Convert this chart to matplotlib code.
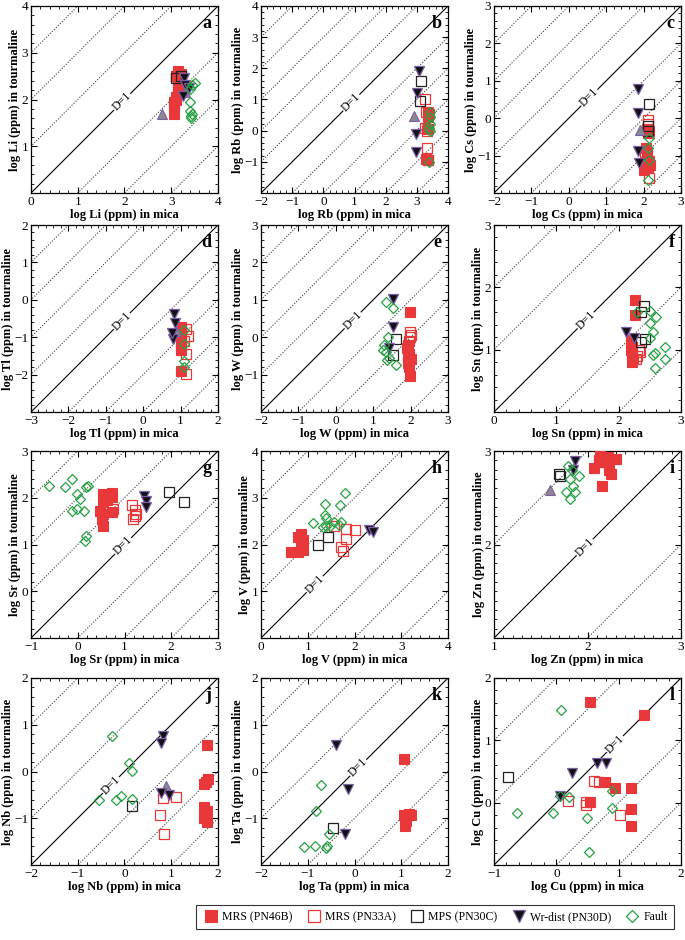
import numpy as np
import matplotlib
matplotlib.use('Agg')
from matplotlib import pyplot as plt
from matplotlib.ticker import MultipleLocator

plt.rcParams['font.family'] = ['Liberation Serif', 'DejaVu Serif']

# ---- data: (log mica, log tourmaline) ----
# a  Li
li_46b = [(3.15, 2.6), (3.2, 2.55), (3.1, 2.5), (3.15, 2.45), (3.2, 2.4), (3.15, 2.3), (3.2, 2.25),
          (3.15, 2.2), (3.1, 2.05), (3.1, 2.0), (3.05, 1.95), (3.05, 1.9), (3.05, 1.7)]
li_33a = [(3.1, 2.5), (3.15, 2.45), (3.2, 2.3)]
li_30c = [(3.1, 2.45), (3.2, 2.5)]
li_30d = [(3.27, 2.45), (3.3, 2.3), (3.25, 2.08), (3.38, 2.25)]
li_wr = [(2.8, 1.7), (3.3, 2.15)]
li_fault = [(3.5, 2.35), (3.45, 2.3), (3.4, 2.22), (3.4, 1.95), (3.4, 1.75), (3.45, 1.7), (3.43, 1.65), (3.42, 1.6)]
# b  Rb
rb_46b = [(3.36, 0.6), (3.35, 0.45), (3.4, 0.55), (3.35, 0.05), (3.35, -0.95), (3.3, -0.9)]
rb_33a = [(3.25, 1.02), (3.3, 0.6), (3.25, 0.1), (3.32, 0.0), (3.32, -0.57), (3.35, -0.95)]
rb_30c = [(3.14, 1.59), (3.09, 0.95)]
rb_30d = [(3.06, 1.9), (3.02, 1.21), (2.98, -0.12), (2.98, -0.7)]
rb_wr = [(2.9, 0.47)]
rb_fault = [(3.41, 0.6), (3.41, 0.45), (3.42, 0.2), (3.4, 0.1), (3.41, -0.01), (3.4, -1.02)]
# c  Cs
cs_46b = [(2.11, -0.4), (2.15, -0.35), (2.06, -0.8), (2.1, -0.9), (2.1, -1.02), (2.15, -1.15),
          (2.16, -1.24), (2.02, -1.38), (2.08, -1.3)]
cs_33a = [(2.11, -0.04), (2.12, -0.15), (2.1, -0.3), (2.05, -0.9), (2.12, -1.3), (2.14, -1.6)]
cs_30c = [(2.14, 0.38), (2.11, -0.22), (2.11, -0.35)]
cs_30d = [(1.85, 0.78), (1.85, 0.14), (1.85, -0.89), (1.87, -1.2)]
cs_wr = [(1.9, -0.31)]
cs_fault = [(2.14, -0.53), (2.11, -0.8), (2.14, -1.11), (2.11, -1.64)]
# d  Tl
tl_46b = [(1.02, -0.73), (1.0, -0.85), (1.02, -0.96), (1.0, -1.1), (1.0, -1.27), (1.02, -1.35), (1.0, -1.9)]
tl_33a = [(1.15, -0.78), (1.2, -0.96), (1.1, -1.1), (1.15, -1.45), (1.15, -1.99)]
tl_30c = []
tl_30d = [(0.82, -0.37), (0.86, -0.62), (0.8, -1.05), (0.78, -0.9)]
tl_wr = [(0.88, -0.83)]
tl_fault = [(1.09, -0.82), (1.09, -1.18), (1.09, -1.63), (1.1, -1.81)]
# e  W
w_46b = [(1.99, 0.68), (1.93, -0.21), (1.9, -0.3), (1.95, -0.44), (1.92, -0.55), (2.0, -0.58),
         (1.92, -0.7), (1.95, -0.79), (1.99, -1.03)]
w_33a = [(1.99, 0.14), (2.02, 0.05), (1.98, 0.0), (1.95, -0.1)]
w_30c = [(1.6, -0.04), (1.53, -0.48)]
w_30d = [(1.53, 1.01), (1.53, 0.28), (1.42, -0.3)]
w_wr = []
w_fault = [(1.35, 0.95), (1.53, 0.77), (1.39, 0.0), (1.3, -0.2), (1.26, -0.35), (1.35, -0.4),
           (1.42, -0.55), (1.38, -0.6), (1.62, -0.73)]
# f  Sn
sn_46b = [(2.26, 1.79), (2.26, 1.56), (2.2, 1.15), (2.22, 1.05), (2.2, 0.99), (2.22, 0.91), (2.23, 0.85), (2.22, 0.8)]
sn_33a = [(2.34, 0.96), (2.3, 0.9), (2.28, 0.85), (2.32, 1.0)]
sn_30c = [(2.41, 1.70), (2.36, 1.61), (2.43, 1.17), (2.36, 1.13)]
sn_30d = [(2.12, 1.29), (2.25, 1.18)]
sn_wr = []
sn_fault = [(2.3, 1.61), (2.51, 1.62), (2.6, 1.53), (2.51, 1.42), (2.55, 1.29), (2.5, 1.19),
            (2.74, 1.04), (2.58, 0.94), (2.55, 0.91), (2.75, 0.85), (2.58, 0.71)]
# g  Sr
sr_46b = [(0.55, 2.08), (0.73, 2.11), (0.73, 2.02), (0.55, 1.9), (0.48, 1.72), (0.55, 1.65),
          (0.55, 1.4), (0.73, 1.69), (0.52, 1.55), (0.62, 1.95)]
sr_33a = [(0.76, 1.77), (1.15, 1.85), (1.22, 1.74), (1.25, 1.65), (1.22, 1.6), (1.18, 1.55)]
sr_30c = [(1.96, 2.13), (2.28, 1.9)]
sr_30d = [(1.42, 2.04), (1.47, 1.94), (1.47, 1.8)]
sr_wr = []
sr_fault = [(-0.62, 2.26), (-0.27, 2.22), (-0.13, 2.41), (-0.01, 2.09), (0.05, 1.97), (0.18, 2.22),
            (0.21, 2.26), (-0.13, 1.72), (-0.01, 1.76), (0.14, 1.72), (0.18, 1.19), (0.16, 1.07)]
# h  V
v_46b = [(0.86, 2.23), (0.8, 2.16), (0.9, 2.1), (0.64, 1.84), (0.79, 1.85), (0.9, 1.88), (0.86, 2.0)]
v_33a = [(1.57, 2.40), (1.81, 2.33), (2.0, 2.3), (1.81, 2.12), (1.71, 1.94), (1.75, 1.87)]
v_30c = [(1.21, 1.99), (1.43, 2.16)]
v_30d = [(2.32, 2.3), (2.39, 2.26)]
v_wr = []
v_fault = [(1.79, 3.11), (1.36, 2.87), (1.7, 2.84), (1.36, 2.63), (1.38, 2.56), (1.12, 2.45),
           (1.39, 2.4), (1.48, 2.4), (1.57, 2.48), (1.66, 2.42), (1.71, 2.48), (1.33, 2.38)]
# i  Zn
zn_46b = [(2.07, 2.82), (2.13, 2.95), (2.22, 2.94), (2.23, 2.8), (2.25, 2.75), (2.31, 2.91),
          (2.16, 2.63), (2.2, 2.88), (2.12, 2.88)]
zn_33a = [(2.12, 2.9), (2.18, 2.88)]
zn_30c = [(1.70, 2.75), (1.71, 2.73)]
zn_30d = [(1.87, 2.89), (1.84, 2.8)]
zn_wr = [(1.6, 2.58)]
zn_fault = [(1.79, 2.84), (1.83, 2.8), (1.81, 2.7), (1.91, 2.73), (1.85, 2.63), (1.87, 2.56),
            (1.77, 2.56), (1.81, 2.49)]
# j  Nb
nb_46b = [(1.76, 0.56), (1.79, -0.16), (1.74, -0.23), (1.69, -0.26), (1.71, -0.77), (1.76, -0.84),
          (1.71, -1.0), (1.76, -1.09)]
nb_33a = [(0.82, -0.57), (1.11, -0.55), (0.76, -0.93), (0.84, -1.33)]
nb_30c = [(0.16, -0.73)]
nb_30d = [(0.82, 0.76), (0.79, 0.6), (0.79, -0.46), (0.95, -0.51)]
nb_wr = [(0.89, -0.31)]
nb_fault = [(-0.26, 0.76), (0.09, 0.18), (0.16, 0.02), (-0.54, -0.6), (-0.18, -0.6), (-0.07, -0.52), (0.16, -0.59)]
# k  Ta
ta_46b = [(1.05, 0.26), (1.05, -0.94), (1.16, -0.9), (1.2, -0.92), (1.07, -1.16), (1.1, -1.05)]
ta_33a = []
ta_30c = [(-0.45, -1.2)]
ta_30d = [(-0.4, 0.56), (-0.13, -0.38), (-0.21, -1.33)]
ta_wr = []
ta_fault = [(-0.71, -0.28), (-0.83, -0.85), (-0.54, -1.33), (-1.09, -1.62), (-0.84, -1.6),
            (-0.61, -1.63), (-0.58, -1.6)]
# l  Cu
cu_46b = [(0.54, 1.62), (1.4, 1.41), (0.78, 0.33), (0.94, 0.24), (1.19, 0.24), (1.19, -0.1),
          (1.19, -0.38), (0.54, 0.01)]
cu_33a = [(0.6, 0.35), (0.69, 0.33), (0.19, 0.03), (0.47, 0.01), (0.47, -0.04), (1.02, -0.2)]
cu_30c = [(-0.78, 0.41)]
cu_30d = [(0.06, 0.11), (0.25, 0.48), (0.66, 0.64), (0.79, 0.64)]
cu_wr = []
cu_fault = [(0.08, 1.48), (-0.63, -0.17), (-0.06, -0.17), (0.06, 0.11), (0.21, 0.09), (0.49, -0.25),
            (0.53, -0.79), (0.9, 0.19), (0.9, -0.09)]

# panel: letter, element, axis range, D=1 label position, series
panels = [
    ('a', 'Li', 0, 4, 1.95, [li_46b, li_33a, li_30c, li_wr, li_30d, li_fault]),
    ('b', 'Rb', -2, 4, 0.9, [rb_46b, rb_33a, rb_30c, rb_wr, rb_30d, rb_fault]),
    ('c', 'Cs', -2, 3, 0.55, [cs_46b, cs_33a, cs_30c, cs_wr, cs_30d, cs_fault]),
    ('d', 'Tl', -3, 2, -0.57, [tl_46b, tl_33a, tl_30c, tl_wr, tl_30d, tl_fault]),
    ('e', 'W', -2, 3, 0.45, [w_46b, w_33a, w_30c, w_wr, w_30d, w_fault]),
    ('f', 'Sn', 0, 3, 1.47, [sn_46b, sn_33a, sn_30c, sn_wr, sn_30d, sn_fault]),
    ('g', 'Sr', -1, 3, 0.97, [sr_46b, sr_33a, sr_30c, sr_wr, sr_30d, sr_fault]),
    ('h', 'V', 0, 4, 1.15, [v_46b, v_33a, v_30c, v_wr, v_30d, v_fault]),
    ('i', 'Zn', 1, 3, 1.97, [zn_46b, zn_33a, zn_30c, zn_wr, zn_30d, zn_fault]),
    ('j', 'Nb', -2, 2, -0.29, [nb_46b, nb_33a, nb_30c, nb_wr, nb_30d, nb_fault]),
    ('k', 'Ta', -2, 2, 0.08, [ta_46b, ta_33a, ta_30c, ta_wr, ta_30d, ta_fault]),
    ('l', 'Cu', -1, 2, 0.94, [cu_46b, cu_33a, cu_30c, cu_wr, cu_30d, cu_fault]),
]

red = '#e8383a'
purple = '#7d5ca8'
green = '#27a243'
styles = [
    dict(marker='s', mfc=red, mec=red, ms=7, mew=0.8, label='MRS (PN46B)'),
    dict(marker='s', mfc='none', mec=red, ms=7, mew=0.9, label='MRS (PN33A)'),
    dict(marker='s', mfc='none', mec='#222222', ms=7, mew=0.9, label='MPS (PN30C)'),
    dict(marker='^', mfc='#8a8a8a', mec=purple, ms=7.5, mew=0.8, label='_wr'),
    dict(marker='v', mfc='#111111', mec=purple, ms=7.5, mew=0.9, label='Wr-dist (PN30D)'),
    dict(marker='D', mfc='none', mec=green, ms=5.6, mew=0.9, label='Fault'),
]

fig = plt.figure(figsize=(6.85, 9.40), dpi=100)
W, H = 685.0, 940.0
col_x = [31, 261, 494]
row_top = [6, 225, 451, 678]
size = 187

for n, (letter, el, lo, hi, dpos, series) in enumerate(panels):
    r, c = divmod(n, 3)
    ax = fig.add_axes([col_x[c] / W, 1 - (row_top[r] + size) / H, size / W, size / H])
    span = hi - lo
    for k in range(-span, span + 1):
        xx = np.array([lo - 1, hi + 1])
        if k == 0:
            ax.plot(xx, xx, color='k', lw=0.8, zorder=1)
        else:
            ax.plot(xx, xx + k, color='0.25', lw=0.8, ls=(0, (1, 1.5)), zorder=1)
    ax.text(dpos, dpos, 'D=1', rotation=45, ha='center', va='center', fontsize=8.5,
            rotation_mode='anchor', bbox=dict(fc='white', ec='none', pad=0.6), zorder=2)
    for pts, st in zip(series, styles):
        if len(pts) == 0:
            continue
        p = np.array(pts)
        ax.plot(p[:, 0], p[:, 1], ls='none', zorder=3, **st)
    ax.set_xlim(lo, hi)
    ax.set_ylim(lo, hi)
    minor = 0.1 if span == 2 else 0.2
    ax.xaxis.set_minor_locator(MultipleLocator(minor))
    ax.yaxis.set_minor_locator(MultipleLocator(minor))
    ax.tick_params(which='both', direction='in', top=True, right=True, labelsize=9.5, pad=2)
    ax.tick_params(which='major', length=4, width=0.8)
    ax.tick_params(which='minor', length=2, width=0.6)
    ax.set_yticks(list(range(lo + 1, hi + 1)))
    ax.set_xticks(list(range(lo, hi + 1)))
    ax.set_xlabel('log %s (ppm) in mica' % el, fontsize=9, fontweight='bold', labelpad=1)
    ax.set_ylabel('log %s (ppm) in tourmaline' % el, fontsize=9, fontweight='bold', labelpad=0)
    ax.text(0.965, 0.95, letter, transform=ax.transAxes, ha='right', va='top',
            fontsize=13, fontweight='bold')
    for s in ax.spines.values():
        s.set_linewidth(0.9)

handles = []
for st in styles:
    if st['label'].startswith('_'):
        continue
    h, = plt.plot([], [], ls='none', **st)
    handles.append(h)
leg = fig.legend(handles=handles, loc='center', bbox_to_anchor=(435 / W, 1 - 917 / H), ncol=5,
                 fontsize=8.5, frameon=True, fancybox=False, edgecolor='k', handletextpad=0.2,
                 columnspacing=1.05, borderpad=0.55, markerscale=1.15, handlelength=1.5)
leg.get_frame().set_linewidth(0.8)

fig.savefig('out.png', dpi=100)
